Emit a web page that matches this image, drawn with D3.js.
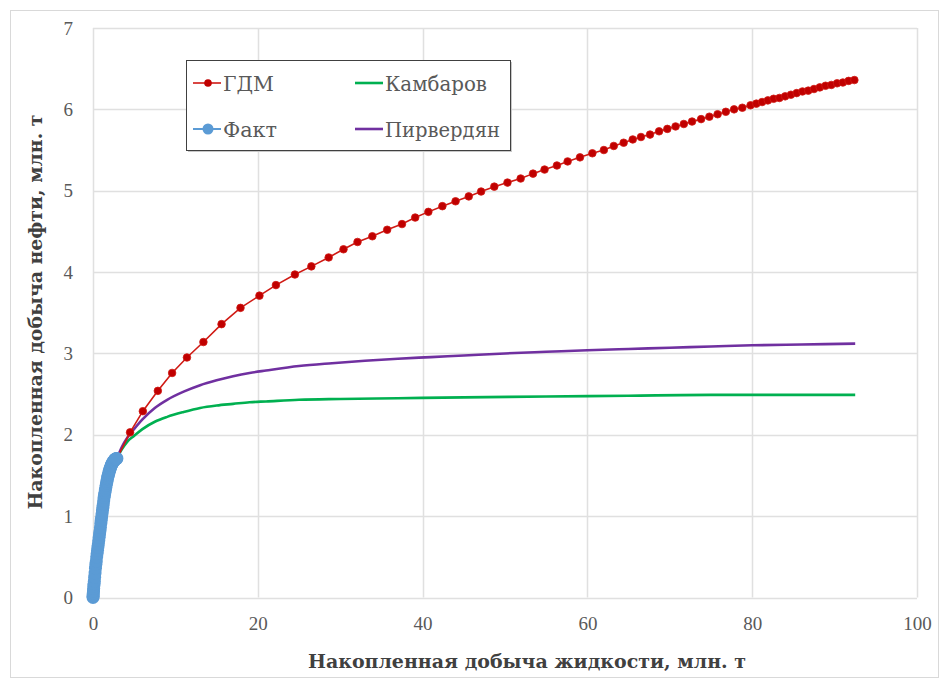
<!DOCTYPE html>
<html><head><meta charset="utf-8">
<script src="https://cdn.jsdelivr.net/npm/d3@7"></script>
<style>body{margin:0;background:#fff}</style>
</head><body>
<script>
// ---- data ----
const xTicks = [0, 20, 40, 60, 80, 100];
const yTicks = [0, 1, 2, 3, 4, 5, 6, 7];

const gdmX = [2.9,4.5,6.05,7.87,9.6,11.4,13.4,15.6,17.9,20.2,22.2,24.5,26.5,28.6,30.4,32.1,33.9,35.7,37.5,39.1,40.7,42.4,44.0,45.6,47.1,48.7,50.3,51.9,53.4,54.8,56.3,57.6,59.1,60.6,62.0,63.2,64.4,65.5,66.5,67.6,68.7,69.7,70.7,71.7,72.7,73.8,74.8,75.8,76.8,77.8,78.8,79.8,80.5,81.2,81.9,82.6,83.3,84.0,84.7,85.4,86.1,86.8,87.5,88.2,88.9,89.6,90.3,91.0,91.7,92.4];
const gdmY = [1.71,2.03,2.29,2.54,2.76,2.95,3.14,3.36,3.56,3.71,3.84,3.97,4.07,4.18,4.28,4.37,4.44,4.52,4.59,4.67,4.74,4.81,4.87,4.93,4.99,5.05,5.10,5.15,5.21,5.26,5.31,5.36,5.41,5.46,5.50,5.55,5.59,5.63,5.66,5.69,5.73,5.76,5.79,5.82,5.85,5.88,5.91,5.94,5.97,6.00,6.02,6.05,6.07,6.09,6.11,6.13,6.14,6.16,6.18,6.20,6.22,6.23,6.25,6.27,6.29,6.30,6.32,6.33,6.35,6.36];

const factX = [0,0.01,0.02,0.04,0.06,0.08,0.1,0.13,0.16,0.2,0.25,0.3,0.35,0.4,0.45,0.5,0.55,0.6,0.65,0.7,0.75,0.8,0.85,0.9,0.95,1.0,1.05,1.1,1.15,1.2,1.25,1.3,1.35,1.4,1.45,1.5,1.55,1.6,1.65,1.7,1.75,1.8,1.85,1.9,1.95,2.0,2.05,2.1,2.15,2.2,2.25,2.3,2.35,2.4,2.45,2.5,2.55,2.6,2.65,2.7,2.75,2.8,2.85,2.9];
const factY = [0,0.015,0.03,0.055,0.08,0.11,0.14,0.17,0.2,0.25,0.3,0.36,0.41,0.45,0.5,0.54,0.58,0.62,0.66,0.7,0.74,0.78,0.82,0.86,0.91,0.95,0.99,1.03,1.07,1.11,1.15,1.19,1.23,1.26,1.29,1.32,1.35,1.38,1.41,1.43,1.46,1.48,1.50,1.52,1.54,1.56,1.575,1.59,1.605,1.62,1.63,1.64,1.65,1.66,1.668,1.675,1.683,1.69,1.695,1.70,1.703,1.705,1.708,1.71];

const kambX = [2.9,3.5,4.2,4.9,6.0,7.5,9.0,11.0,13.0,15.0,17.0,19.0,21.0,25.0,30.0,37.0,45.0,55.0,65.0,75.0,85.0,92.5];
const kambY = [1.71,1.82,1.92,1.98,2.07,2.16,2.22,2.28,2.33,2.36,2.38,2.40,2.41,2.43,2.44,2.45,2.46,2.47,2.48,2.49,2.49,2.49];

const pirvX = [2.9,3.5,4.2,4.9,6.0,7.5,9.0,11.0,13.0,15.0,17.0,19.0,21.0,25.0,29.0,33.0,37.0,41.0,45.0,50.0,55.0,60.0,65.0,70.0,75.0,80.0,86.0,92.5];
const pirvY = [1.71,1.85,1.97,2.06,2.19,2.33,2.43,2.53,2.61,2.67,2.72,2.76,2.79,2.845,2.88,2.91,2.935,2.955,2.975,3.00,3.02,3.04,3.055,3.07,3.085,3.10,3.11,3.12];

const legendItems = ["ГДМ", "Камбаров", "Факт", "Пирвердян"];
const xTitle = "Накопленная добыча жидкости, млн. т";
const yTitle = "Накопленная добыча нефти, млн. т";

// ---- drawing ----
const W = 950, H = 684;
const svg = d3.select("body").append("svg").attr("width", W).attr("height", H);
const font = '"Liberation Serif", "Times New Roman", Tinos, "DejaVu Serif", serif';
const cyrFont = '"DejaVu Serif", serif';

svg.append("rect").attr("x", 10.5).attr("y", 10.5).attr("width", 928).attr("height", 667)
  .attr("fill", "#fff").attr("stroke", "#d9d9d9");

const x = d3.scaleLinear().domain([0, 100]).range([93, 917]);
const y = d3.scaleLinear().domain([0, 7]).range([597.5, 28]);

const grid = svg.append("g");
grid.selectAll(".h").data(yTicks).join("line")
  .attr("x1", x(0)).attr("x2", x(100))
  .attr("y1", d => Math.round(y(d)) + 0.5).attr("y2", d => Math.round(y(d)) + 0.5)
  .attr("stroke", "#e0e0e0").attr("stroke-width", 1.5);
grid.selectAll(".v").data(xTicks).join("line")
  .attr("y1", y(0)).attr("y2", y(7))
  .attr("x1", d => Math.round(x(d)) + 0.5).attr("x2", d => Math.round(x(d)) + 0.5)
  .attr("stroke", "#e0e0e0").attr("stroke-width", 1.5);

// axes (text only)
const xAxis = svg.append("g").attr("transform", `translate(0,${y(0)})`)
  .call(d3.axisBottom(x).tickValues(xTicks).tickFormat(d3.format("d")).tickSize(0).tickPadding(19));
const yAxis = svg.append("g").attr("transform", `translate(${x(0)},0)`)
  .call(d3.axisLeft(y).tickValues(yTicks).tickFormat(d3.format("d")).tickSize(0).tickPadding(20));
[xAxis, yAxis].forEach(a => {
  a.attr("font-family", null).attr("font-size", null);
  a.select(".domain").remove();
  a.selectAll("text").attr("fill", "#595959").attr("font-family", font).attr("font-size", 19);
});

svg.append("text").attr("x", 527).attr("y", 668).attr("text-anchor", "middle")
  .attr("font-family", cyrFont).attr("font-size", 19).attr("font-weight", "bold")
  .attr("fill", "#404040").attr("textLength", 438).attr("lengthAdjust", "spacingAndGlyphs")
  .text(xTitle);
svg.append("text").attr("transform", "translate(42,312) rotate(-90)").attr("text-anchor", "middle")
  .attr("font-family", cyrFont).attr("font-size", 19).attr("font-weight", "bold")
  .attr("fill", "#404040").attr("textLength", 395).attr("lengthAdjust", "spacingAndGlyphs")
  .text(yTitle);

const line = d3.line().x(d => x(d[0])).y(d => y(d[1])).curve(d3.curveMonotoneX);
const zip = (a, b) => a.map((v, i) => [v, b[i]]);

const gdm = zip(gdmX, gdmY), fact = zip(factX, factY), kamb = zip(kambX, kambY), pirv = zip(pirvX, pirvY);

const cRed = "#D01A14", cRedM = "#C00000", cGreen = "#00B050", cPurple = "#7030A0", cBlue = "#5B9BD5";

svg.append("path").datum(kamb).attr("d", line).attr("fill", "none").attr("stroke", cGreen).attr("stroke-width", 2.6);
svg.append("path").datum(pirv).attr("d", line).attr("fill", "none").attr("stroke", cPurple).attr("stroke-width", 2.6);
svg.append("path").datum(gdm).attr("d", d3.line().x(d => x(d[0])).y(d => y(d[1]))).attr("fill", "none").attr("stroke", cRed).attr("stroke-width", 1.6);
svg.append("g").selectAll("circle").data(gdm).join("circle")
  .attr("cx", d => x(d[0])).attr("cy", d => y(d[1])).attr("r", 3.8).attr("fill", cRedM).attr("stroke", cRed).attr("stroke-width", 0.8);
svg.append("path").datum(fact).attr("d", line).attr("fill", "none").attr("stroke", cBlue).attr("stroke-width", 2);
svg.append("g").selectAll("circle").data(fact).join("circle")
  .attr("cx", d => x(d[0])).attr("cy", d => y(d[1])).attr("r", 6.5).attr("fill", cBlue);

// legend
const lg = svg.append("g");
lg.append("rect").attr("x", 188).attr("y", 62).attr("width", 324).attr("height", 90).attr("fill", "#c8c8c8");
lg.append("rect").attr("x", 186.5).attr("y", 60.5).attr("width", 324).attr("height", 90)
  .attr("fill", "#fff").attr("stroke", "#404040").attr("stroke-width", 1);
const pos = [[193, 83], [355, 83], [193, 129], [355, 129]];
const textW = [51, 102, 54, 115];
const cols = [cRed, cGreen, cBlue, cPurple];
legendItems.forEach((name, i) => {
  const [lx, ly] = pos[i];
  lg.append("line").attr("x1", lx).attr("x2", lx + 28).attr("y1", ly).attr("y2", ly)
    .attr("stroke", cols[i]).attr("stroke-width", i === 0 ? 1.6 : (i === 2 ? 2 : 2.6));
  if (i === 0) lg.append("circle").attr("cx", lx + 15).attr("cy", ly).attr("r", 3.8).attr("fill", cRedM);
  if (i === 2) lg.append("circle").attr("cx", lx + 15).attr("cy", ly).attr("r", 5.5).attr("fill", cBlue);
  lg.append("text").attr("x", lx + 30).attr("y", ly + 8).text(name)
    .attr("font-family", cyrFont).attr("font-size", 21).attr("fill", "#595959")
    .attr("textLength", textW[i]).attr("lengthAdjust", "spacingAndGlyphs");
});
</script>
</body></html>
